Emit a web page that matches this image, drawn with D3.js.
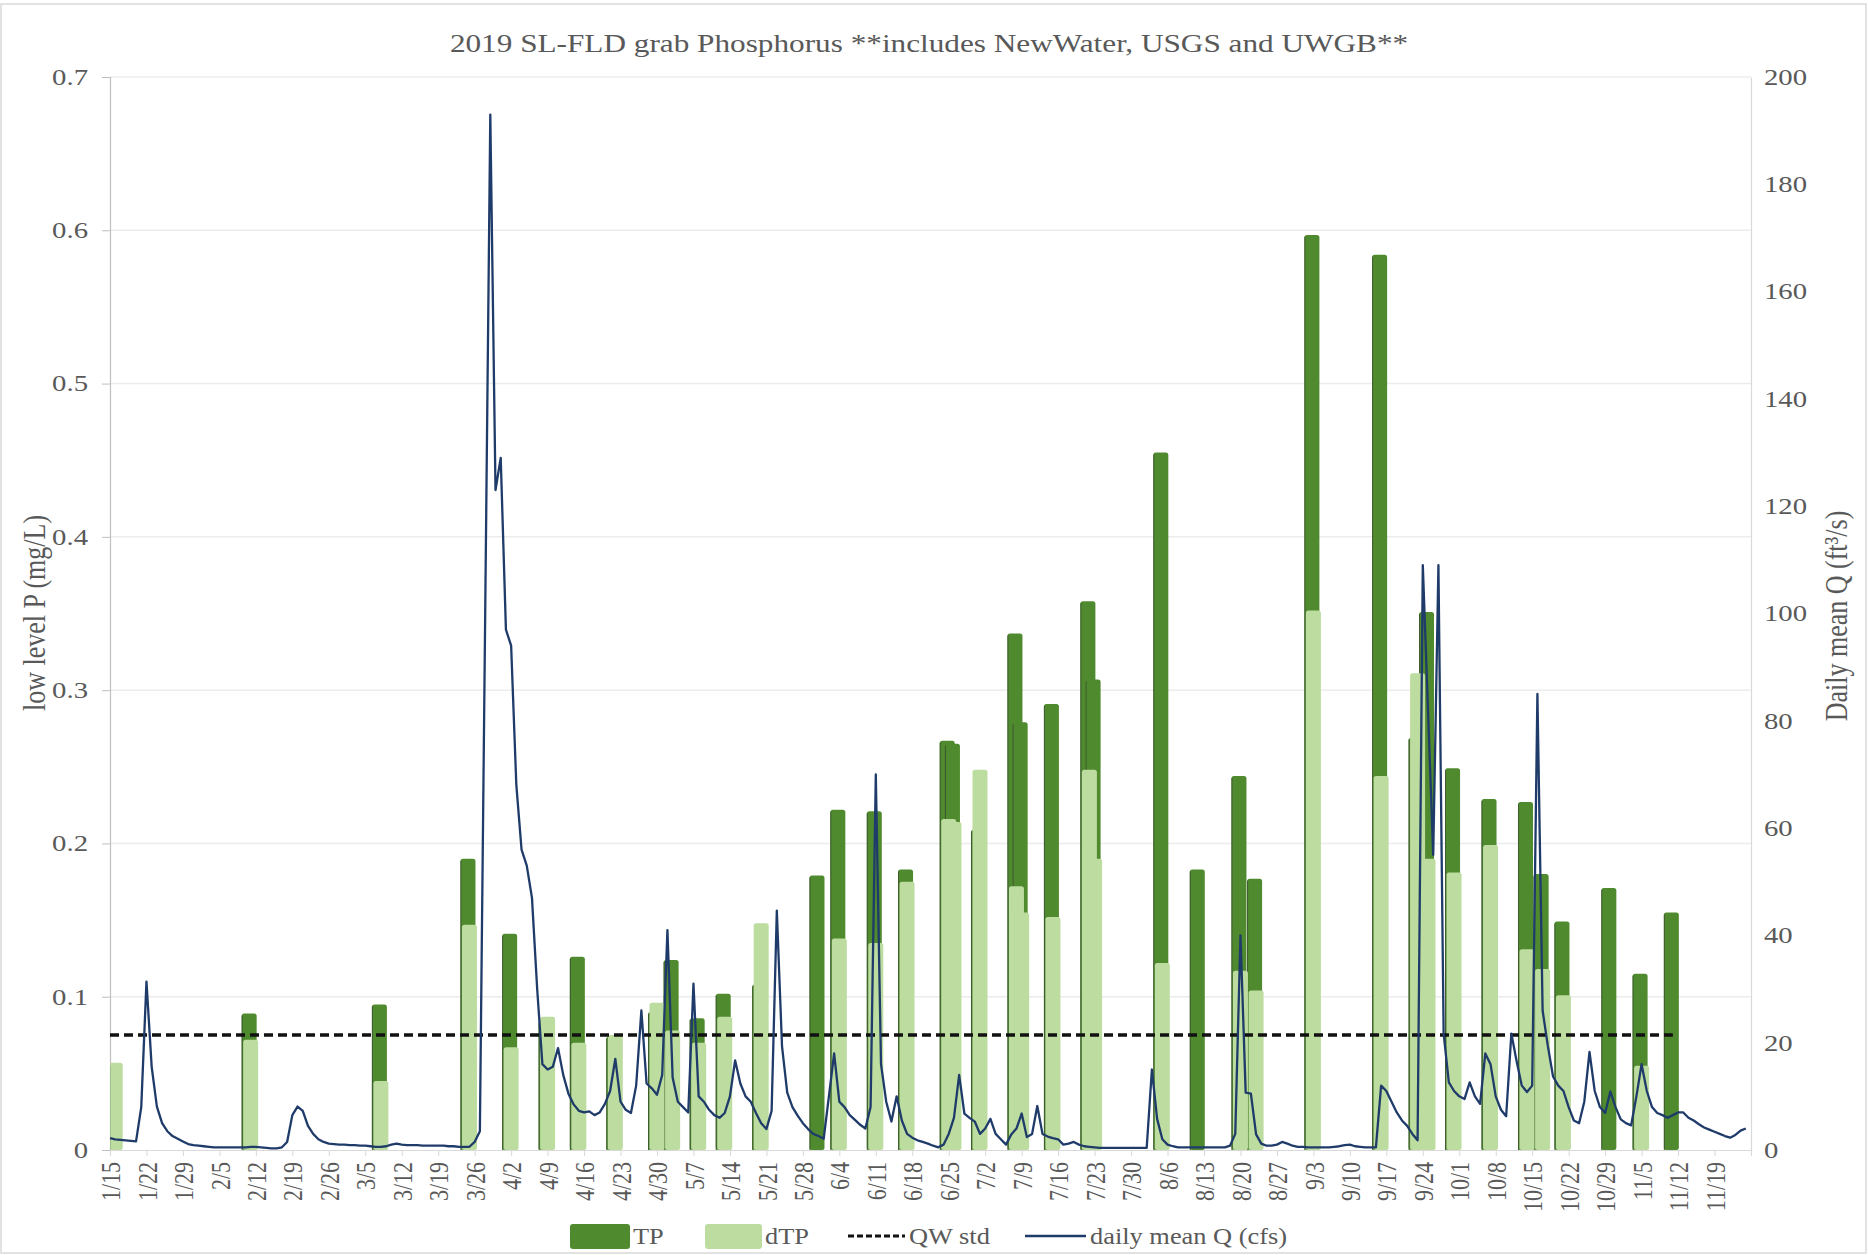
<!DOCTYPE html>
<html>
<head>
<meta charset="utf-8">
<script src="https://cdn.jsdelivr.net/npm/d3@7"></script>
<style>
  body { margin: 0; background: #fff; }
  svg { display: block; }
  text { font-family: "Liberation Serif", "Times New Roman", serif; fill: #595959; }
</style>
</head>
<body>
<svg id="chart" width="1868" height="1255"></svg>
<script>
// ---- grab sample results (mg/L) ----
const sampleDates = ["2019-01-16","2019-02-11","2019-03-08","2019-03-25","2019-04-02","2019-04-09",
  "2019-04-15","2019-04-22","2019-04-30","2019-05-03","2019-05-08","2019-05-13","2019-05-20",
  "2019-05-31","2019-06-04","2019-06-11","2019-06-17","2019-06-25","2019-06-26","2019-07-01",
  "2019-07-08","2019-07-09","2019-07-15","2019-07-22","2019-07-23","2019-08-05","2019-08-12",
  "2019-08-20","2019-08-23","2019-09-03","2019-09-16","2019-09-23","2019-09-25","2019-09-30",
  "2019-10-07","2019-10-14","2019-10-17","2019-10-21","2019-10-30","2019-11-05","2019-11-11"];
const tpValues = [0.055,0.089,0.095,0.190,0.141,0.084,0.126,0.074,0.090,0.124,0.086,0.102,0.108,
  0.179,0.222,0.221,0.183,0.267,0.265,0.209,0.337,0.279,0.291,0.358,0.307,0.455,0.183,
  0.244,0.177,0.597,0.584,0.269,0.351,0.249,0.229,0.227,0.180,0.149,0.171,0.115,0.155];
const dtpValues = [0.057,0.072,0.045,0.147,0.067,0.087,0.070,0.075,0.096,0.078,0.070,0.087,0.148,
  null,0.138,0.135,0.175,0.216,0.214,0.248,0.172,0.155,0.152,0.248,0.190,0.122,null,
  0.117,0.104,0.352,0.244,0.311,0.190,0.181,0.199,0.131,0.118,0.101,null,0.055,null];
const qwStd = 0.075;
const qwFrom = "2019-01-15";

// ---- daily mean discharge (cfs), starting 2019-01-15 ----
const qStart = "2019-01-15";
const qJan = [2.2,2.0,1.9,1.8,1.7,1.6,8,31.4,15.5,8.1,5,3.5,2.6,2.1,1.6,1.1,0.9];
const qFeb = [0.8,0.7,0.6,0.5,0.5,0.5,0.5,0.5,0.5,0.5,0.6,0.6,0.5,0.4,0.3,0.3,0.5,1.5,6.5,8.1,
  7.3,4.5,3.0,2.0,1.5,1.2,1.1,1.0];
const qMar = [1.0,0.9,0.9,0.8,0.8,0.7,0.6,0.6,0.7,1.0,1.2,1.0,0.9,0.9,0.9,0.8,0.8,0.8,0.8,0.8,
  0.7,0.7,0.6,0.6,0.6,1.5,3.5,98,193,123,129];
const qApr = [97,94,68,56,53,47,30,16,15,15.5,19,14,10.5,8.5,7.3,7.0,7.2,6.5,7,8.6,
  11,17,9,7.5,6.9,12,26,12.4,11.5,10.3];
const qMay = [14,41,13.5,9,8,7,31,10,9,7.5,6.5,6,6.9,10,16.7,12.4,10,9,6.9,5,
  3.9,7.3,44.6,19.3,10.7,8,6.4,5,3.9,3,2.6];
const qJun = [2.1,10,18,9,8,6.5,5.6,4.7,4,8,70,16,9,5.3,10,5.5,3,2.3,1.8,1.5,
  1.2,0.8,0.5,1,3,6,14,6.8,6,5.3];
const qJul = [3,4,5.8,3,2,1,2.9,4,6.8,2.4,3,8.2,3,2.5,2.2,2,1,1.2,1.5,1,
  0.7,0.6,0.5,0.4,0.4,0.4,0.4,0.4,0.4,0.4,0.4];
const qAug = [0.4,0.4,15,5.8,2,1,0.7,0.5,0.5,0.5,0.5,0.5,0.5,0.5,0.5,0.5,0.5,0.8,3,40,
  10.7,10.5,2.9,1.2,0.8,0.8,1,1.5,1.2,0.8,0.6];
const qSep = [0.6,0.5,0.5,0.5,0.5,0.5,0.6,0.7,0.9,1.0,0.7,0.6,0.5,0.5,0.5,12,11,9,7,5.5,
  4.5,3,1.8,109,82,55,109,21.7,12.6,11];
const qOct = [10,9.5,12.6,10,8.6,18,16,10,7.5,6.3,21.7,16.6,12,10.8,12,85,26,19.4,13.7,12,
  11,8,5.5,5,9,18.3,11,8,6.9,10.9,8];
const qNov = [5.7,5,4.6,10,16,11,8,6.9,6.5,6,6.5,7,7,6,5.5,4.8,4.2,3.8,3.4,3,
  2.6,2.3,2.8,3.6,4];

// ---- axes ----
const pTicks = [0,0.1,0.2,0.3,0.4,0.5,0.6,0.7];
const qTicks = [0,20,40,60,80,100,120,140,160,180,200];
const dateDomain = ["2019-01-15","2019-11-26"];
const firstWeekTick = "2019-01-15", lastWeekTick = "2019-11-20";

const titleText = "2019 SL-FLD grab Phosphorus **includes NewWater, USGS and UWGB**";
const leftTitle = "low level P (mg/L)";
const rightTitle = "Daily mean Q (ft\u00B3/s)";
const legendLabels = ["TP","dTP","QW std","daily mean Q (cfs)"];

// ---- drawing ----
const GX = 1.25;            // serif glyphs are drawn wide in this chart
const C = { tp:"#4f8a2e", tpEdge:"#3f5a31", dtp:"#bddca0", q:"#1f3b6a", axis:"#bfbfbf",
            grid:"#ececec", text:"#595959" };
const plot = { left:110, right:1751, top:77, bottom:1150 };
const BW = 15;

const parse = d3.utcParse("%Y-%m-%d");
const svg = d3.select("#chart");

const x = d3.scaleUtc().domain(dateDomain.map(parse)).range([plot.left, plot.right]);
const yP = d3.scaleLinear().domain([0, 0.7]).range([plot.bottom, plot.top]);
const yQ = d3.scaleLinear().domain([0, 200]).range([plot.bottom, plot.top]);

const samples = sampleDates.map((d, i) => ({ date: parse(d), tp: tpValues[i], dtp: dtpValues[i] }));
const qAll = [].concat(qJan, qFeb, qMar, qApr, qMay, qJun, qJul, qAug, qSep, qOct, qNov);
const qSeries = qAll.map((v, i) => ({ date: d3.utcDay.offset(parse(qStart), i), q: v }));

// plot-area clip for the columns
svg.append("defs").append("clipPath").attr("id", "plotClip").append("rect")
  .attr("x", plot.left + 0.5).attr("y", plot.top - 5)
  .attr("width", plot.right - plot.left).attr("height", plot.bottom - plot.top + 5);

// outer frame
svg.append("rect").attr("x", 1).attr("y", 4).attr("width", 1865).attr("height", 1249)
  .attr("fill", "none").attr("stroke", "#d9d9d9").attr("stroke-width", 1.5);

// widen glyphs around their own anchor
function widen(sel) {
  sel.each(function () {
    const t = d3.select(this);
    const x0 = +(t.attr("x") || 0);
    t.attr("x", x0 / GX);
    t.attr("transform", `scale(${GX},1)` + (t.attr("transform") ? " " + t.attr("transform") : ""));
  });
}

// gridlines
svg.append("g").selectAll("line").data(pTicks.filter(d => d > 0)).join("line")
  .attr("x1", plot.left).attr("x2", plot.right)
  .attr("y1", d => yP(d)).attr("y2", d => yP(d))
  .attr("stroke", C.grid).attr("stroke-width", 1.5);

// left axis
const gL = svg.append("g").attr("transform", `translate(${plot.left},0)`)
  .call(d3.axisLeft(yP).tickValues(pTicks).tickFormat(d => d === 0 ? "0" : d3.format(".1f")(d))
    .tickSize(8).tickPadding(14));
gL.select(".domain").attr("stroke", C.axis).attr("stroke-width", 1.2);
gL.selectAll(".tick line").attr("stroke", C.axis);
gL.selectAll(".tick text").attr("font-size", 23).attr("fill", C.text)
  .attr("font-family", "Liberation Serif").call(widen);

// right axis
const gR = svg.append("g").attr("transform", `translate(${plot.right},0)`)
  .call(d3.axisRight(yQ).tickValues(qTicks).tickSize(0).tickPadding(13));
gR.select(".domain").attr("stroke", "#d9d9d9").attr("stroke-width", 1.2);
gR.selectAll(".tick text").attr("font-size", 23).attr("fill", C.text)
  .attr("font-family", "Liberation Serif").call(widen);

// bottom date axis, weekly
const weekTicks = d3.utcDay.range(parse(firstWeekTick), parse(lastWeekTick), 7);
const gB = svg.append("g").attr("transform", `translate(0,${plot.bottom})`)
  .call(d3.axisBottom(x).tickValues(weekTicks).tickFormat(d3.utcFormat("%-m/%-d")).tickSize(6));
gB.select(".domain").attr("stroke", "#d9d9d9").attr("stroke-width", 1.2);
gB.selectAll(".tick line").attr("stroke", "#d9d9d9");
gB.selectAll(".tick text").attr("font-size", 22).attr("fill", C.text)
  .attr("font-family", "Liberation Serif")
  .attr("text-anchor", "end").attr("y", 0).attr("x", -12).attr("dy", "0.35em")
  .attr("transform", `scale(${GX},1) rotate(-90)`);

// TP columns (behind), then dTP columns
const cols = svg.append("g").attr("clip-path", "url(#plotClip)");
const barsTP = cols.append("g");
barsTP.selectAll("rect").data(samples.filter(d => d.tp != null)).join("rect")
  .attr("x", d => x(d.date) - BW / 2 - 1.5).attr("width", BW)
  .attr("y", d => yP(d.tp)).attr("height", d => yP(0) - yP(d.tp))
  .attr("rx", 2.5).attr("fill", C.tp);
barsTP.selectAll("line").data(samples.filter(d => d.tp != null)).join("line")
  .attr("x1", d => x(d.date) - BW / 2 - 1).attr("x2", d => x(d.date) - BW / 2 - 1)
  .attr("y1", d => yP(d.tp) + 2).attr("y2", yP(0))
  .attr("stroke", C.tpEdge).attr("stroke-width", 1);

cols.append("g").selectAll("rect").data(samples.filter(d => d.dtp != null)).join("rect")
  .attr("x", d => x(d.date) - BW / 2).attr("width", BW)
  .attr("y", d => yP(d.dtp)).attr("height", d => yP(0) - yP(d.dtp))
  .attr("rx", 2.5).attr("fill", C.dtp);

// QW standard, from the start of the record to the last sample
const qwPoints = [{ date: parse(qwFrom) }].concat(samples);
svg.append("path").datum(qwPoints)
  .attr("d", d3.line().x(d => x(d.date)).y(() => yP(qwStd)))
  .attr("fill", "none").attr("stroke", "#111").attr("stroke-width", 3.5)
  .attr("stroke-dasharray", "9,5");

// daily mean Q on the secondary axis
svg.append("path").datum(qSeries)
  .attr("d", d3.line().x(d => x(d.date)).y(d => yQ(d.q)))
  .attr("fill", "none").attr("stroke", C.q).attr("stroke-width", 2.3)
  .attr("stroke-linejoin", "round");

// title and axis titles
svg.append("text").attr("transform", `translate(929,52) scale(${GX},1)`)
  .attr("text-anchor", "middle").attr("font-size", 25).text(titleText);
svg.append("text").attr("transform", `translate(45,613) scale(${GX},1) rotate(-90)`)
  .attr("text-anchor", "middle").attr("font-size", 26).text(leftTitle);
svg.append("text").attr("transform", `translate(1847,616) scale(${GX},1) rotate(-90)`)
  .attr("text-anchor", "middle").attr("font-size", 26).text(rightTitle);

// legend
const lg = svg.append("g").attr("transform", "translate(0,1236)");
lg.append("rect").attr("x", 570).attr("y", -12).attr("width", 60).attr("height", 25).attr("rx", 3).attr("fill", C.tp);
lg.append("rect").attr("x", 705).attr("y", -12).attr("width", 57).attr("height", 25).attr("rx", 3).attr("fill", C.dtp);
lg.append("line").attr("x1", 848).attr("x2", 905).attr("y1", 0).attr("y2", 0)
  .attr("stroke", "#111").attr("stroke-width", 3).attr("stroke-dasharray", "6,3");
lg.append("line").attr("x1", 1025).attr("x2", 1086).attr("y1", 0).attr("y2", 0)
  .attr("stroke", C.q).attr("stroke-width", 2.5);
[[633, legendLabels[0]], [765, legendLabels[1]], [909, legendLabels[2]], [1090, legendLabels[3]]]
  .forEach(([lx, t]) => {
    lg.append("text").attr("transform", `translate(${lx},0) scale(1.1,1)`)
      .attr("dy", "0.35em").attr("font-size", 24).text(t);
  });
</script>
</body>
</html>
